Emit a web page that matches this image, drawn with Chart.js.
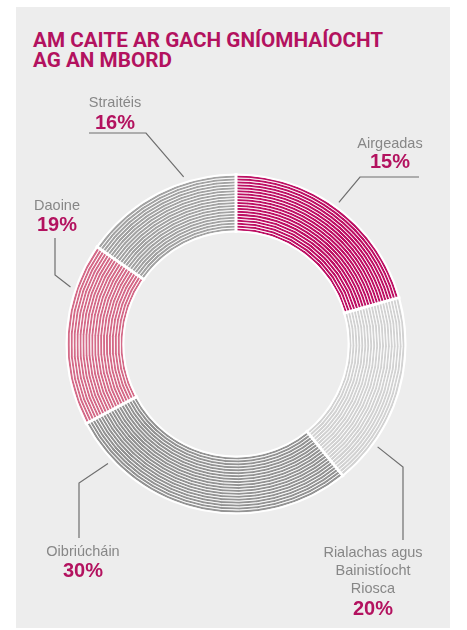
<!DOCTYPE html>
<html>
<head>
<meta charset="utf-8">
<script src="https://cdn.jsdelivr.net/npm/chart.js@4.4.0/dist/chart.umd.min.js"></script>
<style>
html, body { margin: 0; padding: 0; background: #fff; }
#panel { position: absolute; left: 16px; top: 7px; width: 434px; height: 621px; background: #ededed; }
#title { position: absolute; left: 33px; top: 30px; font: 700 20.7px Roboto, sans-serif; line-height: 20px; color: #b3125f; white-space: nowrap; }
#wrap { position: absolute; left: 0; top: 0; width: 467px; height: 630px; }
</style>
</head>
<body>
<div id="panel"></div>
<div id="title">AM CAITE AR GACH GNÍOMHAÍOCHT<br>AG AN MBORD</div>
<div id="wrap"><canvas id="donut" width="467" height="630"></canvas></div>
<script>
// activities, in drawing order (clockwise from 12 o'clock)
var categories = ["Airgeadas", "Rialachas agus Bainistíocht Riosca", "Oibriúcháin", "Daoine", "Straitéis"];
var labelLines = [["Airgeadas"], ["Rialachas agus", "Bainistíocht", "Riosca"], ["Oibriúcháin"], ["Daoine"], ["Straitéis"]];
var percentLabels = ["15%", "20%", "30%", "19%", "16%"];
// share of the ring each slice takes, as drawn
var sliceShares = [20.6, 18.6, 28.1, 17.5, 15.3];
var stripeColors = ["#bd0f63", "#d2d2d2", "#939393", "#d46a88", "#a3a3a3"];

var STRIPES = 19;

// callout positions (leader start angle on ring, then elbow + end points)
var callouts = [
    {angle: 36,  path: [[360, 177], [419, 177]], x: 390, lines: [148], pct: 168},
    {angle: 126, path: [[403, 467], [403, 540]], x: 373, lines: [557, 575, 593], pct: 615},
    {angle: 227, path: [[79, 483], [79, 538]],   x: 83,  lines: [556], pct: 577},
    {angle: 289, path: [[55, 275], [55, 238]],   x: 57,  lines: [210], pct: 231},
    {angle: 342.6, path: [[146, 133], [89, 133]], x: 115, lines: [107], pct: 129}
];

var datasets = [];
for (var i = 0; i < STRIPES; i++) {
    datasets.push({
        data: sliceShares,
        backgroundColor: stripeColors,
        borderColor: "#ffffff",
        borderWidth: 0.9,
        cutout: "66.9%"
    });
}

const ringDecor = {
    id: 'ringDecor',
    afterDatasetsDraw: (chart) => {
        const ctx = chart.ctx;
        const outer = chart.getDatasetMeta(0).data;
        const inner = chart.getDatasetMeta(STRIPES - 1).data;
        const cx = outer[0].x, cy = outer[0].y;
        const R = outer[0].outerRadius, r = inner[0].innerRadius;
        ctx.save();
        ctx.strokeStyle = "#ffffff";
        // gaps between slices
        ctx.lineWidth = 3;
        outer.forEach(arc => {
            const a = arc.startAngle;
            ctx.beginPath();
            ctx.moveTo(cx + (r - 2) * Math.cos(a), cy + (r - 2) * Math.sin(a));
            ctx.lineTo(cx + (R + 2) * Math.cos(a), cy + (R + 2) * Math.sin(a));
            ctx.stroke();
        });
        // outline
        ctx.lineWidth = 2;
        ctx.beginPath(); ctx.arc(cx, cy, R + 0.5, 0, Math.PI * 2); ctx.stroke();
        ctx.beginPath(); ctx.arc(cx, cy, r - 0.5, 0, Math.PI * 2); ctx.stroke();
        ctx.restore();
    },
    afterDraw: (chart) => {
        const ctx = chart.ctx;
        const arc0 = chart.getDatasetMeta(0).data[0];
        const cx = arc0.x, cy = arc0.y, R = arc0.outerRadius + 6;
        ctx.save();
        callouts.forEach((c, i) => {
            const t = c.angle * Math.PI / 180;
            ctx.strokeStyle = "#6e6e6e";
            ctx.lineWidth = 1.2;
            ctx.beginPath();
            ctx.moveTo(cx + R * Math.sin(t), cy - R * Math.cos(t));
            c.path.forEach(p => ctx.lineTo(p[0], p[1]));
            ctx.stroke();

            ctx.textAlign = "center";
            ctx.textBaseline = "alphabetic";
            ctx.fillStyle = "#878787";
            ctx.font = "14.5px 'Liberation Sans', Arial, sans-serif";
            labelLines[i].forEach((txt, j) => ctx.fillText(txt, c.x, c.lines[j]));
            ctx.fillStyle = "#b3125f";
            ctx.font = "bold 20px 'Liberation Sans', Arial, sans-serif";
            ctx.fillText(percentLabels[i], c.x, c.pct);
        });
        ctx.restore();
    }
};

var ctx = document.getElementById("donut").getContext('2d');
var myChart = new Chart(ctx, {
    type: 'doughnut',
    data: {
        labels: categories,
        datasets: datasets
    },
    options: {
        responsive: false,
        animation: false,
        events: [],
        layout: {
            padding: {left: 66.5, right: 61.5, top: 174.5, bottom: 116.5}
        },
        plugins: {
            legend: {display: false},
            tooltip: {enabled: false}
        }
    },
    plugins: [ringDecor]
});
</script>
</body>
</html>
